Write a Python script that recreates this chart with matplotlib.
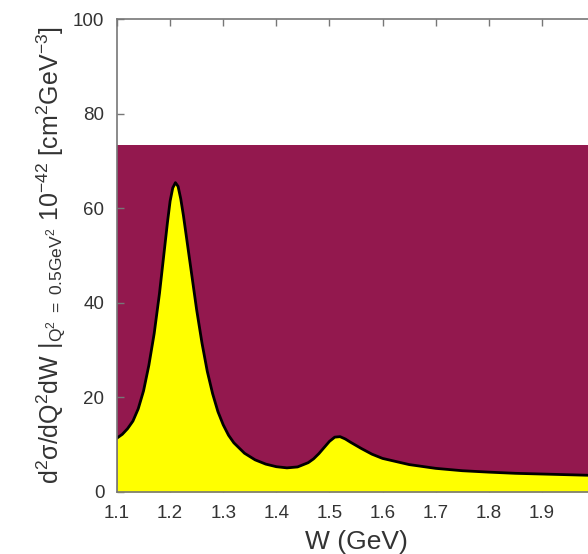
import matplotlib
matplotlib.use("Agg")
import matplotlib.pyplot as plt

plt.rcParams['font.family'] = ['Liberation Sans', 'DejaVu Sans']
plt.rcParams['mathtext.fontset'] = 'custom'
plt.rcParams['mathtext.rm'] = 'Liberation Sans'
plt.rcParams['mathtext.it'] = 'Liberation Sans:italic'

# Data
W = [1.10, 1.11, 1.12, 1.13, 1.14, 1.15, 1.16, 1.17, 1.18, 1.19, 1.195, 1.20,
     1.205, 1.21, 1.215, 1.22, 1.225, 1.23, 1.24, 1.25, 1.26, 1.27, 1.28,
     1.29, 1.30, 1.31, 1.32, 1.34, 1.36, 1.38, 1.40, 1.42, 1.44, 1.46, 1.47,
     1.48, 1.49, 1.50, 1.51, 1.52, 1.53, 1.54, 1.56, 1.58, 1.60, 1.65, 1.70,
     1.75, 1.80, 1.85, 1.90, 1.95, 2.00]
xsec = [11.4, 12.2, 13.4, 15.0, 17.6, 21.4, 26.8, 33.5, 42.0, 52.0, 57.0, 61.5,
        64.3, 65.4, 64.6, 62.0, 58.5, 54.5, 46.5, 38.5, 31.5, 25.5, 20.8,
        17.0, 14.2, 12.0, 10.4, 8.2, 6.8, 5.9, 5.35, 5.1, 5.3, 6.2, 7.0,
        8.1, 9.4, 10.7, 11.6, 11.7, 11.2, 10.5, 9.2, 8.0, 7.1, 5.8, 5.0,
        4.5, 4.2, 3.95, 3.8, 3.65, 3.5]
band_top = 73.4
x_ticks = [1.1, 1.2, 1.3, 1.4, 1.5, 1.6, 1.7, 1.8, 1.9, 2.0]
x_ticklabels = ['1.1', '1.2', '1.3', '1.4', '1.5', '1.6', '1.7', '1.8', '1.9', '']
y_ticks = [0, 20, 40, 60, 80, 100]

fig = plt.figure(figsize=(5.88, 5.54), dpi=100)
ax = fig.add_axes([117/588, 62/554, 478/588, 473/554])

maroon = '#93184e'
ax.fill_between([W[0], W[-1]], [0, 0], [band_top, band_top], color=maroon, lw=0, zorder=1)
ax.fill_between(W, 0, xsec, color='#ffff00', lw=0, zorder=2)
ax.plot(W, xsec, color='black', lw=2.0, zorder=3, solid_joinstyle='round')

ax.set_xlim(1.1, 2.0)
ax.set_ylim(0, 100)
ax.set_xticks(x_ticks)
ax.set_xticklabels(x_ticklabels)
ax.set_yticks(y_ticks)
ax.tick_params(direction='in', length=5, width=1, color='#777777',
               top=True, right=True, labelsize=13.5, labelcolor='#333333')
ax.tick_params(axis='x', pad=9)
ax.tick_params(axis='y', pad=9)
for s in ax.spines.values():
    s.set_color('#777777')
    s.set_linewidth(1.2)
    s.set_zorder(4)

ax.set_xlabel('W (GeV)', fontsize=19, color='#333333', labelpad=6)
ax.set_ylabel(r'$\mathrm{d^2\sigma/dQ^2dW\ |_{Q^2\ =\ 0.5GeV^2}\ 10^{-42}\ [cm^2GeV^{-3}]}$',
              fontsize=18, color='#333333', labelpad=4)

fig.savefig('out.png', dpi=100)
